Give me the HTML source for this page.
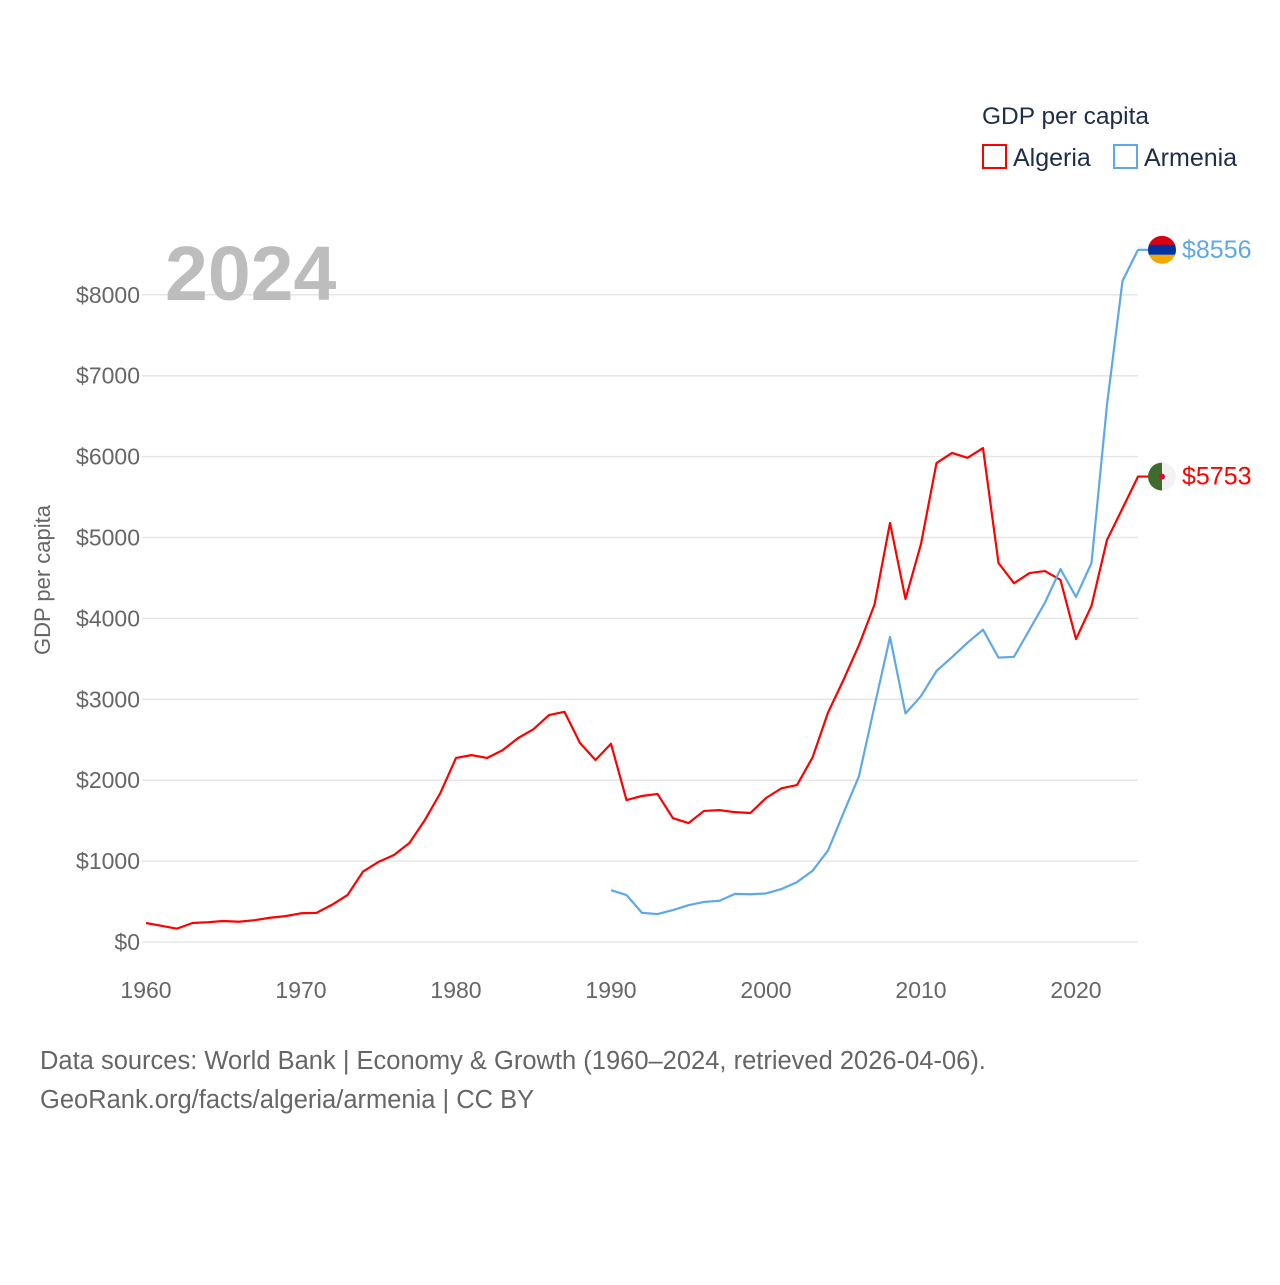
<!DOCTYPE html>
<html><head><meta charset="utf-8"><style>
body{margin:0;background:#fff;}
svg text{font-family:"Liberation Sans",sans-serif;}
</style></head><body>
<svg width="1280" height="1280" xmlns="http://www.w3.org/2000/svg">
<rect width="1280" height="1280" fill="#fff"/>
<g id="grid"></g><g id="yticks"></g><g id="xticks"></g><g id="lines"></g>
<text x="165" y="300" font-size="77" font-weight="bold" fill="#bdbdbd">2024</text>
<text transform="translate(50,580) rotate(-90)" text-anchor="middle" font-size="22" fill="#666">GDP per capita</text>
<text x="982" y="124" font-size="24.5" fill="#1f2d4a">GDP per capita</text>
<g><rect x="983" y="145" width="23" height="23" fill="none" stroke="red" stroke-width="2"/><text x="1013" y="166" font-size="25" fill="#1f2d4a">Algeria</text></g>
<g><rect x="1114" y="145" width="23" height="23" fill="none" stroke="#5fa8e8" stroke-width="2"/><text x="1144" y="166" font-size="25" fill="#1f2d4a">Armenia</text></g>
<text x="40" y="1069" font-size="25.5" fill="#666">Data sources: World Bank | Economy &amp; Growth (1960–2024, retrieved 2026-04-06).</text>
<text x="40" y="1108" font-size="25.5" fill="#666">GeoRank.org/facts/algeria/armenia | CC BY</text>
</svg>
<script>
const yTicks=[0,1000,2000,3000,4000,5000,6000,7000,8000];
const xTicks=[1960,1970,1980,1990,2000,2010,2020];
const algeriaYears=[];for(let y=1960;y<=2024;y++)algeriaYears.push(y);
const algeriaValues=[235,200,165,235,245,260,250,270,300,320,355,360,460,580,870,990,1075,1225,1510,1845,2275,2310,2275,2370,2520,2630,2805,2845,2460,2250,2450,1755,1805,1830,1530,1470,1620,1630,1605,1595,1780,1900,1940,2280,2835,3240,3670,4170,5180,4240,4920,5920,6045,5985,6105,4685,4435,4560,4585,4475,3745,4155,4970,5360,5753];
const armeniaYears=[];for(let y=1990;y<=2024;y++)armeniaYears.push(y);
const armeniaValues=[640,580,360,345,395,455,495,510,595,590,600,655,740,880,1130,1595,2050,2915,3770,2825,3040,3350,3520,3700,3860,3515,3525,3860,4195,4610,4265,4685,6640,8170,8556];
const NS='http://www.w3.org/2000/svg';
const xS=y=>146+(y-1960)*15.5;
const yS=v=>942-v*0.0809;
function mk(tag,attrs,parent){const e=document.createElementNS(NS,tag);for(const k in attrs)e.setAttribute(k,attrs[k]);document.getElementById(parent).appendChild(e);return e;}
yTicks.forEach(v=>{
 const l=mk('line',{x1:142,x2:1138,y1:yS(v),y2:yS(v),stroke:'#e6e6e6','stroke-width':1.5},'grid');
 
 
 const t=mk('text',{x:140,y:yS(v)+8,'text-anchor':'end','font-size':23,fill:'#666'},'yticks');
 t.textContent='$'+v;
 
 
});
xTicks.forEach(y=>{
 const t=mk('text',{x:xS(y),y:998,'text-anchor':'middle','font-size':23,fill:'#666'},'xticks');
 t.textContent=y;
 
 
});
function series(years,vals,color,name,flag){
 let d=years.map((y,i)=>(i?'L':'M')+xS(y)+','+yS(vals[i])).join(' ');
 const last=vals[vals.length-1];
 d+=' L'+(xS(years[years.length-1])+12)+','+yS(last);
 const p=mk('path',{d:d,fill:'none',stroke:color,'stroke-width':2.2,'stroke-linejoin':'round'},'lines');
 
 
 const cy=yS(last),cx=1162;
 const g=mk('g',{},'lines');
 
 
 g.innerHTML=flag(cx,cy);
 const t=mk('text',{x:1182,y:cy+8,'font-size':25,fill:color},'lines');
 t.textContent='$'+last;
 
 
}
series(algeriaYears,algeriaValues,'#ff0000','algeria',(cx,cy)=>`<clipPath id="ca"><circle cx="${cx}" cy="${cy}" r="14"/></clipPath><g clip-path="url(#ca)"><rect x="${cx-14}" y="${cy-14}" width="14" height="28" fill="#3f6b2e"/><rect x="${cx}" y="${cy-14}" width="14" height="28" fill="#f2f2f2"/><circle cx="${cx}" cy="${cy}" r="3" fill="#d21034"/></g>`);
series(armeniaYears,armeniaValues,'#5fa8e8','armenia',(cx,cy)=>`<clipPath id="cb"><circle cx="${cx}" cy="${cy}" r="14"/></clipPath><g clip-path="url(#cb)"><rect x="${cx-14}" y="${cy-14}" width="28" height="10" fill="#d90012"/><rect x="${cx-14}" y="${cy-5}" width="28" height="10" fill="#0033a0"/><rect x="${cx-14}" y="${cy+5}" width="28" height="10" fill="#f2a800"/></g>`);
</script>
</body></html>
